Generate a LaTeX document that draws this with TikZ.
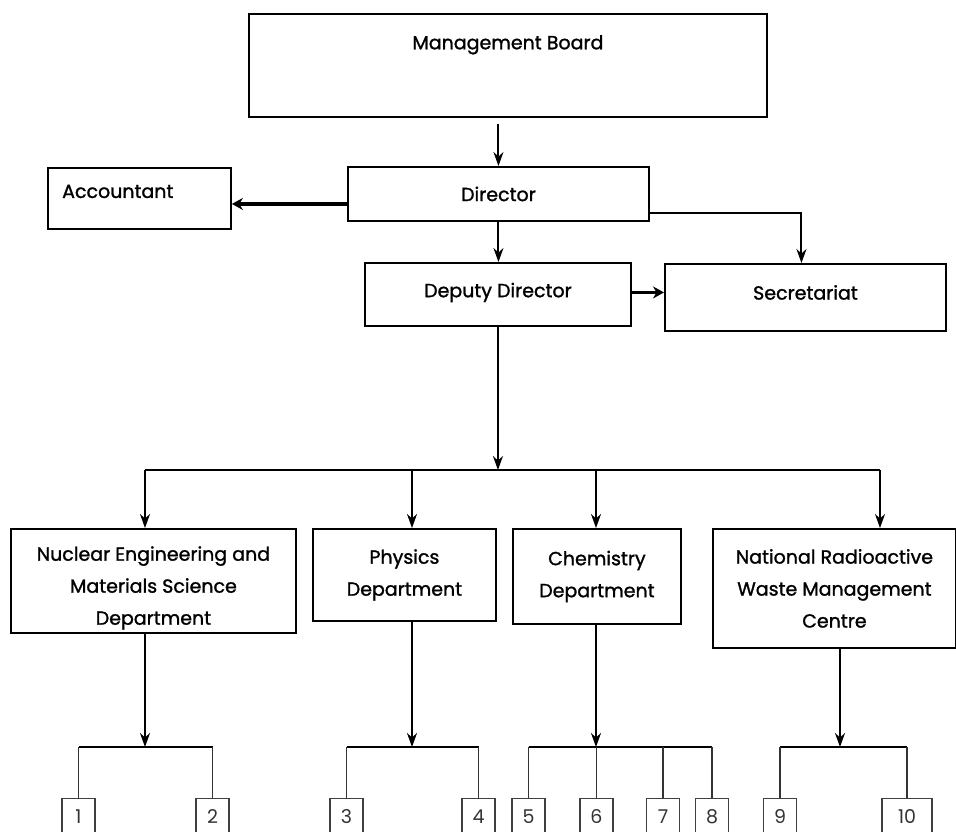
\documentclass[tikz,border=0pt]{standalone}
\usepackage{fontspec}
\setmainfont{Poppins}
\newfontfamily\heavyfont{Poppins}[FakeBold=1.3]
\usetikzlibrary{arrows.meta}
\usetikzlibrary{positioning}
\tikzset{box/.style = {draw, line width=1.9pt, rectangle, inner sep=0, anchor=north west,
                       align=center, font=\heavyfont\fontsize{19}{32}\selectfont}}
\tikzset{lbl/.style = {inner sep=0, align=center, font=\heavyfont\fontsize{19}{32}\selectfont}}
\tikzset{arr/.style = {line width=2pt, -{Stealth[length=14pt, width=10pt]}}}
\tikzset{thickarr/.style = {line width=3.8pt, -{Stealth[length=11pt, width=12pt]}}}
\tikzset{num/.style = {draw=black!75, line width=1.2pt, minimum height=36pt, anchor=north, inner sep=0,
                       text=black!80, font=\fontsize{19}{19}\selectfont}}
\tikzset{bar/.style = {line width=2.6pt}}
\tikzset{drop/.style = {line width=1.3pt, black!80}}

\begin{document}
\begin{tikzpicture}[x=1pt, y=-1pt]
  \useasboundingbox (0,0) rectangle (956,831);

  % top of the chart
  \node [box, minimum width=518pt, minimum height=103pt] (board) at (248,13) {};
  \node [lbl, anchor=north] (boardtxt) at ([yshift=-22pt]board.north) {Management Board};
  \node [box, minimum width=301pt, minimum height=54pt] (director) at (347,166) {Director};
  \node [box, minimum width=183pt, minimum height=61pt] (acct) at (47,167) {};
  \node [lbl, anchor=west] (accttxt) at ([xshift=15pt, yshift=7pt]acct.west) {Accountant};
  \node [box, minimum width=266pt, minimum height=63pt] (deputy) at (364,262) {};
  \node [lbl] (deputytxt) at ([yshift=2pt]deputy.center) {Deputy Director};
  \node [box, minimum width=281pt, minimum height=67pt] (secr) at (664,263) {};
  \node [lbl] (secrtxt) at ([yshift=5pt]secr.center) {Secretariat};

  \draw [arr, shorten <=6pt] (director.north |- board.south) -- (director.north);
  \draw [thickarr] ([yshift=-10pt]director.west) -- ([yshift=-10pt]director.west -| acct.east);
  \draw [arr] (director.south) -- (director.south |- deputy.north);
  \draw [arr] ([yshift=-19pt]director.east) -| ([xshift=-4pt]secr.north);
  \draw [thickarr] ([yshift=2pt]deputy.east) -- ([yshift=2pt]deputy.east -| secr.west);

  % departments
  \node [box, minimum width=285pt, minimum height=104pt] (nuc) at (10,528) {};
  \node [lbl] (nuctxt) at ([yshift=-7pt]nuc.center)
        {Nuclear Engineering and\\Materials Science\\Department};
  \node [box, minimum width=183pt, minimum height=92pt] (phy) at (312,528) {Physics\\Department};
  \node [box, minimum width=168pt, minimum height=95pt] (chem) at (512,528) {Chemistry\\Department};
  \node [box, minimum width=243pt, minimum height=119pt] (nat) at (712,528)
        {National Radioactive\\Waste Management\\Centre};

  \coordinate (hub) at (498,470);
  \coordinate (busL) at (145,470);
  \coordinate (busR) at (880,470);
  \draw [arr] (deputy.south) -- (deputy.south |- hub);
  \draw [line width=2pt] (busL) -- (busR);
  \foreach \x/\dept in {145/nuc, 412/phy, 596/chem, 880/nat}
    \draw [arr] (\x,470) -- (\x,0 |- \dept.north);

  % sections under each department
  \foreach \x/\dept/\j in {145/nuc/1, 412/phy/2, 596/chem/3, 840/nat/4} {
    \coordinate (j\j) at (\x,747);
    \draw [arr] (\x,0 |- \dept.south) -- (j\j);
  }
  \foreach \n/\x/\w in {1/78.5/33, 2/212.5/33, 3/346.5/33, 4/478.5/33, 5/528.5/33,
                        6/596.5/33, 7/663/33, 8/712/33, 9/780/33, 10/907/50}
    \node [num, minimum width=\w pt] (s\n) at (\x,798) {\n};
  \foreach \first/\last/\j in {1/2/1, 3/4/2, 5/8/3, 9/10/4}
    \draw [bar] (s\first.north |- j\j) -- (s\last.north |- j\j);
  \foreach \n/\j in {1/1, 2/1, 3/2, 4/2, 5/3, 6/3, 7/3, 8/3, 9/4, 10/4}
    \draw [drop] (s\n.north |- j\j) -- (s\n.north);
\end{tikzpicture}
\end{document}
